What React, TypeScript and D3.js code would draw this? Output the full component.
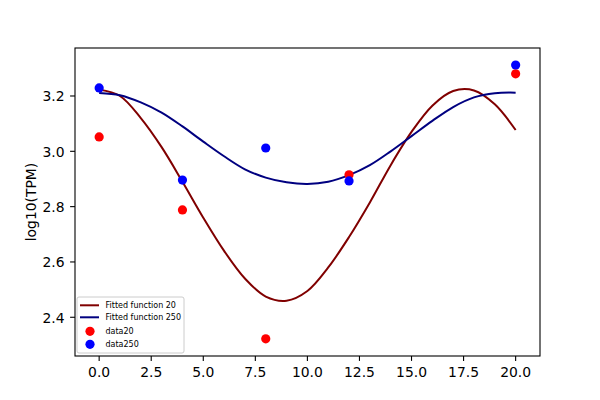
import React from "react";
import * as d3 from "d3";

const fitX = [0, 1, 2, 3, 4, 5, 6, 7, 8, 9, 10, 11, 12, 13, 14, 15, 16, 17, 18, 19, 20];
const fit20 = [3.223, 3.2, 3.12, 3.015, 2.89, 2.76, 2.64, 2.54, 2.475, 2.46, 2.495, 2.58, 2.69, 2.815, 2.95, 3.07, 3.165, 3.218, 3.22, 3.17, 3.077];
const fit250 = [3.211, 3.203, 3.177, 3.14, 3.09, 3.035, 2.982, 2.935, 2.905, 2.888, 2.882, 2.89, 2.914, 2.95, 3.0, 3.055, 3.11, 3.16, 3.195, 3.21, 3.212];

const dataX = [0, 4, 8, 12, 20];
const data20 = [3.052, 2.788, 2.322, 2.915, 3.28];
const data250 = [3.229, 2.896, 3.012, 2.893, 3.312];

const xTicks = [0, 2.5, 5, 7.5, 10, 12.5, 15, 17.5, 20];
const yTicks = [2.4, 2.6, 2.8, 3.0, 3.2];

const legendLabels = ["Fitted function 20", "Fitted function 250", "data20", "data250"];

export default function App() {
  const W = 600, H = 400;
  const L = 75, R = 540, T = 48, B = 356;
  const x = d3.scaleLinear().domain([-1.16, 21.17]).range([L, R]);
  const y = d3.scaleLinear().domain([2.26, 3.3735]).range([B, T]);
  const line = d3
    .line<number>()
    .x((_, i) => x(fitX[i]))
    .y((d) => y(d))
    .curve(d3.curveCatmullRom.alpha(0.5));
  const font = "'DejaVu Sans', sans-serif";
  return (
    <svg width={W} height={H} style={{ position: "absolute", left: 0, top: 0 }} fontFamily={font}>
      <rect x={0} y={0} width={W} height={H} fill="#fff" />
      <defs>
        <clipPath id="ax">
          <rect x={L} y={T} width={R - L} height={B - T} />
        </clipPath>
      </defs>
      <g clipPath="url(#ax)">
        <path d={line(fit20) || ""} fill="none" stroke="#800000" strokeWidth={2} />
        <path d={line(fit250) || ""} fill="none" stroke="#000080" strokeWidth={2} />
        {dataX.map((d, i) => (
          <circle key={"r" + i} cx={x(d)} cy={y(data20[i])} r={4.6} fill="#ff0000" />
        ))}
        {dataX.map((d, i) => (
          <circle key={"b" + i} cx={x(d)} cy={y(data250[i])} r={4.6} fill="#0000ff" />
        ))}
      </g>
      <rect x={L} y={T} width={R - L} height={B - T} fill="none" stroke="#000" strokeWidth={1.1} />
      {xTicks.map((t) => (
        <g key={"x" + t}>
          <line x1={x(t)} x2={x(t)} y1={B} y2={B + 4.9} stroke="#000" strokeWidth={1.1} />
          <text x={x(t)} y={B + 21} fontSize={13.9} textAnchor="middle" fill="#000">
            {t.toFixed(1)}
          </text>
        </g>
      ))}
      {yTicks.map((t) => (
        <g key={"y" + t}>
          <line x1={L - 4.9} x2={L} y1={y(t)} y2={y(t)} stroke="#000" strokeWidth={1.1} />
          <text x={L - 10.5} y={y(t) + 5.3} fontSize={13.9} textAnchor="end" fill="#000">
            {t.toFixed(1)}
          </text>
        </g>
      ))}
      <text
        transform={`translate(36, ${(T + B) / 2}) rotate(-90)`}
        fontSize={13.9}
        textAnchor="middle"
        fill="#000"
      >
        log10(TPM)
      </text>
      <g>
        <rect x={77} y={297} width={107} height={56} rx={2} fill="#fff" fillOpacity={0.8} stroke="#ccc" strokeWidth={1} />
        <line x1={80} x2={99} y1={305.3} y2={305.3} stroke="#800000" strokeWidth={2} />
        <line x1={80} x2={99} y1={317.3} y2={317.3} stroke="#000080" strokeWidth={2} />
        <circle cx={90} cy={331.3} r={4.6} fill="#ff0000" />
        <circle cx={90} cy={344.3} r={4.6} fill="#0000ff" />
        {legendLabels.map((s, i) => (
          <text key={s} x={105.5} y={[308.2, 320.2, 334.2, 347.2][i]} fontSize={8} fill="#000">
            {s}
          </text>
        ))}
      </g>
    </svg>
  );
}
